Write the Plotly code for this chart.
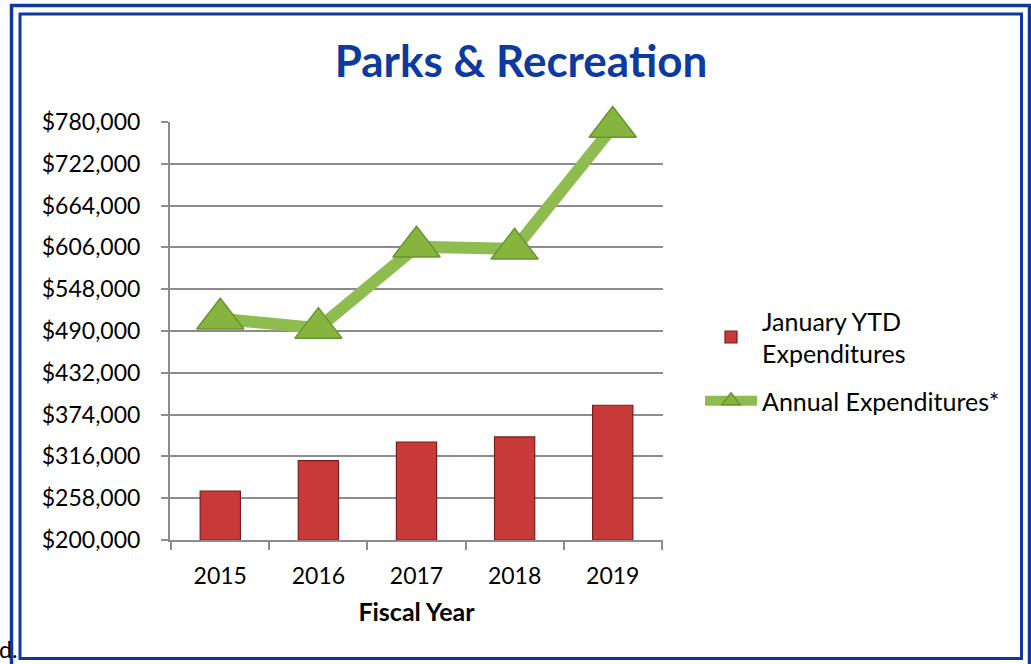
import plotly.graph_objects as go

# Fiscal years and expenditure series
years = ["2015", "2016", "2017", "2018", "2019"]
jan_ytd = [268000, 310000, 336000, 343000, 387000]
annual = [507000, 494000, 607000, 604000, 773000]

y_min, y_max, y_step = 200000, 780000, 58000

W, H = 1031, 664
L, R, T, B = 170, 663, 122, 540  # plot area in pixels

FONT = "Lato"
BLUE = "#0c3a9e"
GRID = "#8c8c8c"


def px(x):
    return (x - L) / (R - L)


def py(y):
    return (B - y) / (B - T)


fig = go.Figure()

fig.add_trace(go.Bar(
    x=years, y=[v - y_min for v in jan_ytd], base=y_min,
    name="January YTD<br>Expenditures", legendgroup="ytd",
    marker=dict(color="#c83a3a", line=dict(color="#7a1c1c", width=1.2)),
    hoverinfo="skip",
))

fig.add_trace(go.Scatter(
    x=years, y=annual, mode="lines+markers",
    name="Annual Expenditures*", legendgroup="annual",
    line=dict(color="#8fbc4f", width=12),
    marker=dict(symbol="triangle-up", size=41, color="#86b43e",
                line=dict(color="#6a9431", width=1.5)),
    cliponaxis=False,
    hoverinfo="skip",
))

shapes = [
    # outer frame line
    dict(type="rect", xref="paper", yref="paper",
         x0=px(11.5), x1=px(1029.5), y0=py(5.5), y1=py(680),
         line=dict(color=BLUE, width=3.5), fillcolor="rgba(0,0,0,0)", layer="below"),
    # inner frame line
    dict(type="rect", xref="paper", yref="paper",
         x0=px(20), x1=px(1021.5), y0=py(14), y1=py(658.5),
         line=dict(color=BLUE, width=3), fillcolor="rgba(0,0,0,0)", layer="below"),
]

fig.update_layout(
    width=W, height=H,
    margin=dict(l=L, r=W - R, t=T, b=H - B, pad=0),
    paper_bgcolor="white", plot_bgcolor="white",
    font=dict(family=FONT, size=23, color="black"),
    title=dict(text="<b>Parks & Recreation</b>", x=521 / W, xanchor="center",
               y=1 - 62 / H, yanchor="middle", xref="container", yref="container",
               font=dict(family=FONT, size=44, color=BLUE)),
    bargap=0.59,
    showlegend=True,
    legend=dict(xref="container", yref="container", x=700 / W, y=1 - 298 / H,
                xanchor="left", yanchor="top", bgcolor="rgba(0,0,0,0)",
                font=dict(family=FONT, size=25, color="black"),
                itemwidth=52, tracegroupgap=12, traceorder="grouped"),
    shapes=shapes,
    annotations=[dict(text="d.", xref="paper", yref="paper", x=px(-3), y=py(649),
                      xanchor="left", yanchor="middle", showarrow=False,
                      font=dict(family=FONT, size=23, color="black"))],
)

fig.update_xaxes(
    type="category", showgrid=False, showline=True, linecolor=GRID, linewidth=2,
    ticks="outside", tickson="boundaries", ticklen=8, tickcolor=GRID, tickwidth=2,
    ticklabelstandoff=14,
    tickfont=dict(family=FONT, size=23, color="black"),
    title=dict(text="<b>Fiscal Year</b>", standoff=16,
               font=dict(family=FONT, size=25, color="black")),
)

fig.update_yaxes(
    range=[y_min, y_max], tick0=y_min, dtick=y_step, tickformat="$,.0f",
    showgrid=True, gridcolor=GRID, gridwidth=2,
    showline=True, linecolor=GRID, linewidth=2,
    ticks="outside", ticklen=7, tickcolor=GRID, tickwidth=2,
    ticklabelstandoff=16, zeroline=False,
    tickfont=dict(family=FONT, size=23, color="black"),
)

fig.write_html("out.html")
